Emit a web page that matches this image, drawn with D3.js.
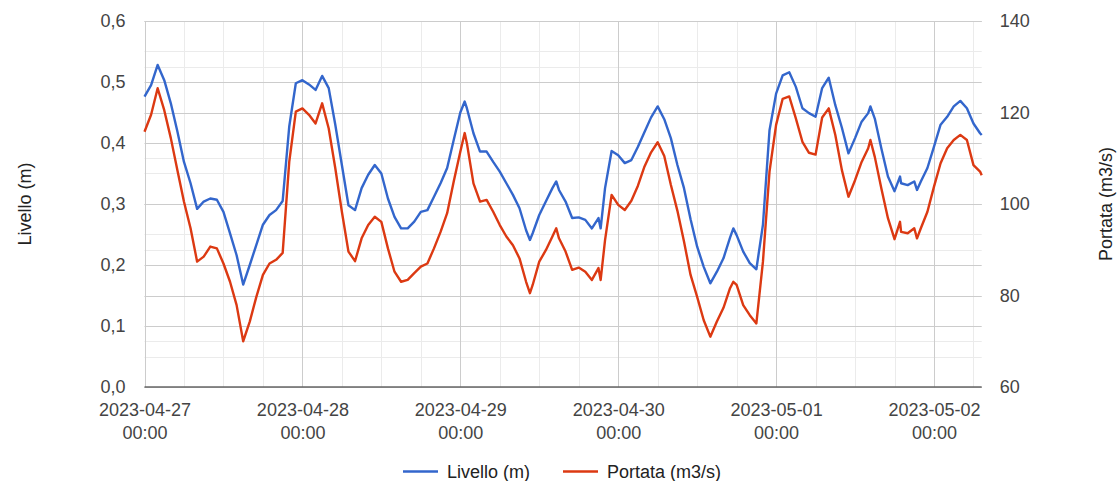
<!DOCTYPE html>
<html><head><meta charset="utf-8">
<script src="https://cdn.jsdelivr.net/npm/d3@7"></script>
<style>
body{margin:0;background:#fff}
svg{display:block;font-family:Arial,"Liberation Sans",sans-serif}
</style>
</head><body>
<svg id="c" width="1117" height="481"></svg>
<script>
// ---------- DATA ----------
const times = [
 "04-27 00:00","04-27 01:00","04-27 02:00","04-27 03:00","04-27 04:00","04-27 05:00","04-27 06:00","04-27 07:00",
 "04-27 08:00","04-27 09:00","04-27 10:00","04-27 11:00","04-27 12:00","04-27 13:00","04-27 14:00","04-27 15:00",
 "04-27 16:00","04-27 17:00","04-27 18:00","04-27 19:00","04-27 20:00","04-27 21:00","04-27 22:00","04-27 23:00",
 "04-28 00:00","04-28 01:00","04-28 02:00","04-28 03:00","04-28 04:00","04-28 05:00","04-28 06:00","04-28 07:00",
 "04-28 08:00","04-28 09:00","04-28 10:00","04-28 11:00","04-28 12:00","04-28 13:00","04-28 14:00","04-28 15:00",
 "04-28 16:00","04-28 17:00","04-28 18:00","04-28 19:00","04-28 20:00","04-28 21:00","04-28 22:00","04-28 23:00",
 "04-29 00:00","04-29 00:40","04-29 01:00","04-29 02:00","04-29 03:00","04-29 04:00","04-29 05:00","04-29 06:00",
 "04-29 07:00","04-29 08:00","04-29 09:00","04-29 10:00","04-29 10:35","04-29 11:00","04-29 12:00","04-29 13:00",
 "04-29 14:00","04-29 14:35","04-29 15:00","04-29 16:00","04-29 17:00","04-29 18:00","04-29 19:00","04-29 20:00",
 "04-29 21:00","04-29 21:20","04-29 22:00","04-29 23:00",
 "04-30 00:00","04-30 01:00","04-30 02:00","04-30 03:00","04-30 04:00","04-30 05:00","04-30 06:00","04-30 07:00",
 "04-30 08:00","04-30 09:00","04-30 10:00","04-30 11:00","04-30 12:00","04-30 13:00","04-30 14:00","04-30 15:00",
 "04-30 16:00","04-30 17:00","04-30 17:30","04-30 18:00","04-30 19:00","04-30 20:00","04-30 21:00","04-30 22:00",
 "04-30 23:00",
 "05-01 00:00","05-01 01:00","05-01 02:00","05-01 03:00","05-01 04:00","05-01 05:00","05-01 06:00","05-01 07:00",
 "05-01 08:00","05-01 09:00","05-01 10:00","05-01 11:00","05-01 12:00","05-01 13:00","05-01 14:00","05-01 14:20",
 "05-01 15:00","05-01 16:00","05-01 17:00","05-01 18:00","05-01 18:50","05-01 19:00","05-01 20:00","05-01 21:00",
 "05-01 21:25","05-01 22:00","05-01 23:00",
 "05-02 00:00","05-02 01:00","05-02 02:00","05-02 03:00","05-02 04:00","05-02 05:00","05-02 06:00","05-02 07:00",
 "05-02 07:15"
];
const livello = [
 0.476,0.495,0.528,0.503,0.465,0.419,0.369,0.334,0.292,0.304,0.309,0.307,0.287,0.252,0.216,0.168,
 0.200,0.233,0.266,0.282,0.290,0.305,0.427,0.498,
 0.503,0.496,0.487,0.510,0.490,0.430,0.364,0.298,0.290,0.326,0.348,0.364,0.350,0.309,0.279,0.260,
 0.260,0.271,0.287,0.290,0.312,0.334,0.359,0.405,
 0.450,0.468,0.457,0.416,0.386,0.386,0.369,0.353,0.334,0.315,0.293,0.257,0.241,0.252,0.282,0.304,
 0.326,0.337,0.323,0.304,0.277,0.278,0.274,0.260,0.277,0.260,0.326,0.387,
 0.380,0.367,0.372,0.394,0.418,0.442,0.460,0.439,0.408,0.364,0.326,0.275,0.230,0.197,0.170,0.189,
 0.211,0.245,0.260,0.249,0.222,0.203,0.193,0.266,0.421,
 0.481,0.511,0.516,0.492,0.457,0.449,0.443,0.490,0.507,0.462,0.425,0.383,0.408,0.435,0.449,0.460,
 0.440,0.391,0.345,0.321,0.345,0.334,0.331,0.337,0.323,0.337,0.359,
 0.394,0.430,0.443,0.460,0.469,0.457,0.432,0.416,0.413
];
const portata = [
 115.8,119.5,125.3,120.5,114.4,107.4,100.5,94.7,87.4,88.5,90.7,90.3,87.0,83.0,77.9,70.0,
 74.3,79.7,84.5,87.0,87.8,89.3,109.2,120.2,
 120.9,119.5,117.6,122.0,116.5,107.8,98.3,89.6,87.5,92.5,95.4,97.2,96.1,90.3,85.2,83.0,
 83.4,84.9,86.3,87.0,90.3,93.9,98.0,104.9,
 111.4,115.5,113.3,104.5,100.5,100.9,98.3,95.4,92.9,91.0,88.1,83.0,80.5,82.3,87.4,89.9,
 92.9,94.7,92.5,89.6,85.6,86.1,85.2,83.4,86.0,83.4,92.1,102.0,
 99.8,98.7,100.7,104.0,108.2,111.3,113.5,110.5,104.2,98.5,91.8,84.5,79.7,74.6,71.0,74.3,
 77.3,81.6,83.0,82.3,77.9,75.7,73.9,87.4,107.1,
 117.3,123.0,123.5,118.7,113.6,111.2,110.8,118.9,120.9,115.1,107.4,101.6,105.2,109.2,112.2,114.0,
 110.3,103.4,96.9,92.3,96.1,93.9,93.6,94.7,92.5,94.7,98.3,
 103.8,108.9,112.2,114.0,115.1,114.0,108.5,107.1,106.3
];
const seriesNames = ["Livello (m)", "Portata (m3/s)"];
const leftTicks = [0, 0.1, 0.2, 0.3, 0.4, 0.5, 0.6];
const leftMinorTicks = [0.05, 0.15, 0.25, 0.35, 0.45, 0.55];
const rightTicks = [60, 80, 100, 120, 140];
const rightMinorTicks = [70, 90, 110, 130];
const dayTicks = ["04-27 00:00","04-28 00:00","04-29 00:00","04-30 00:00","05-01 00:00","05-02 00:00"];
const axisTitles = ["Livello (m)", "Portata (m3/s)"];

// ---------- STYLE ----------
const colors = ["#3366cc", "#dc3912"];
const M = {left: 144.5, right: 981.7, top: 21, bottom: 387};
const FONT = 18;

const parse = d3.timeParse("%Y-%m-%d %H:%M");
const T = times.map(t => parse("2023-" + t));
const dayDates = dayTicks.map(t => parse("2023-" + t));

const svg = d3.select("#c");
const x = d3.scaleTime().domain([T[0], T[T.length - 1]]).range([M.left, M.right]);
const yL = d3.scaleLinear().domain([0, 0.6]).range([M.bottom, M.top]);
const yR = d3.scaleLinear().domain([60, 140]).range([M.bottom, M.top]);
const px = v => Math.round(v) + 0.5;

// gridlines
const g = svg.append("g");
const minorV = x.ticks(d3.timeHour.every(6)).filter(d => d.getHours() !== 0);
g.selectAll(".vmin").data(minorV).join("line")
  .attr("x1", d => px(x(d))).attr("x2", d => px(x(d)))
  .attr("y1", M.top).attr("y2", M.bottom).attr("stroke", "#ebebeb");
g.selectAll(".hminL").data(leftMinorTicks).join("line")
  .attr("x1", M.left).attr("x2", M.right)
  .attr("y1", d => px(yL(d))).attr("y2", d => px(yL(d))).attr("stroke", "#ebebeb");
g.selectAll(".hminR").data(rightMinorTicks).join("line")
  .attr("x1", M.left).attr("x2", M.right)
  .attr("y1", d => px(yR(d))).attr("y2", d => px(yR(d))).attr("stroke", "#ebebeb");
g.selectAll(".vmaj").data(dayDates).join("line")
  .attr("x1", d => px(x(d))).attr("x2", d => px(x(d)))
  .attr("y1", M.top).attr("y2", M.bottom).attr("stroke", "#cccccc");
g.selectAll(".hmajL").data(leftTicks).join("line")
  .attr("x1", M.left).attr("x2", M.right)
  .attr("y1", d => px(yL(d))).attr("y2", d => px(yL(d))).attr("stroke", "#cccccc");
g.selectAll(".hmajR").data(rightTicks).join("line")
  .attr("x1", M.left).attr("x2", M.right)
  .attr("y1", d => px(yR(d))).attr("y2", d => px(yR(d))).attr("stroke", "#cccccc");

// series
const lineL = d3.line().x((d, i) => x(T[i])).y(d => yL(d));
const lineR = d3.line().x((d, i) => x(T[i])).y(d => yR(d));
svg.append("path").datum(portata).attr("d", lineR)
  .attr("fill", "none").attr("stroke", colors[1]).attr("stroke-width", 2.4).attr("stroke-linejoin", "round");
svg.append("path").datum(livello).attr("d", lineL)
  .attr("fill", "none").attr("stroke", colors[0]).attr("stroke-width", 2.4).attr("stroke-linejoin", "round");

// baseline
svg.append("line").attr("x1", M.left).attr("x2", M.right)
  .attr("y1", M.bottom).attr("y2", M.bottom).attr("stroke", "#666").attr("stroke-width", 1.6);

// axes
const it = d3.formatLocale({decimal: ",", thousands: ".", grouping: [3], currency: ["€", ""]});
const fmtL = it.format(".1f");
const axL = svg.append("g").attr("transform", `translate(${M.left - 19},0)`)
  .call(d3.axisLeft(yL).tickValues(leftTicks).tickFormat(fmtL).tickSize(0).tickPadding(0));
const axR = svg.append("g").attr("transform", `translate(${M.right + 18},0)`)
  .call(d3.axisRight(yR).tickValues(rightTicks).tickFormat(d3.format("d")).tickSize(0).tickPadding(0));
const fmtDate = d3.timeFormat("%Y-%m-%d");
const fmtTime = d3.timeFormat("%H:%M");
const axB = svg.append("g").attr("transform", `translate(0,${M.bottom})`)
  .call(d3.axisBottom(x).tickValues(dayDates).tickFormat(fmtDate).tickSize(0).tickPadding(0));
axB.selectAll(".tick text").each(function(d) {
  const t = d3.select(this);
  t.text(null).attr("y", 0).attr("dy", null);
  t.append("tspan").attr("x", 0).attr("y", 29).text(fmtDate(d));
  t.append("tspan").attr("x", 0).attr("y", 52).text(fmtTime(d));
});
[axL, axR, axB].forEach(a => {
  a.select(".domain").remove();
  a.selectAll("text").attr("font-size", FONT).attr("font-family", "Arial, 'Liberation Sans', sans-serif").attr("fill", "#444");
});

// axis titles
svg.append("text").attr("transform", `translate(31,${(M.top + M.bottom) / 2}) rotate(-90)`)
  .attr("text-anchor", "middle").attr("font-size", FONT).attr("fill", "#222").text(axisTitles[0]);
svg.append("text").attr("transform", `translate(1112,${(M.top + M.bottom) / 2}) rotate(-90)`)
  .attr("text-anchor", "middle").attr("font-size", FONT).attr("fill", "#222").text(axisTitles[1]);

// legend
const legendX = [403, 563];
const lg = svg.append("g");
seriesNames.forEach((n, i) => {
  lg.append("line").attr("x1", legendX[i]).attr("x2", legendX[i] + 35)
    .attr("y1", 471.5).attr("y2", 471.5).attr("stroke", colors[i]).attr("stroke-width", 2.4);
  lg.append("text").attr("x", legendX[i] + 44).attr("y", 478)
    .attr("font-size", FONT).attr("fill", "#222").text(n);
});
</script>
</body></html>
